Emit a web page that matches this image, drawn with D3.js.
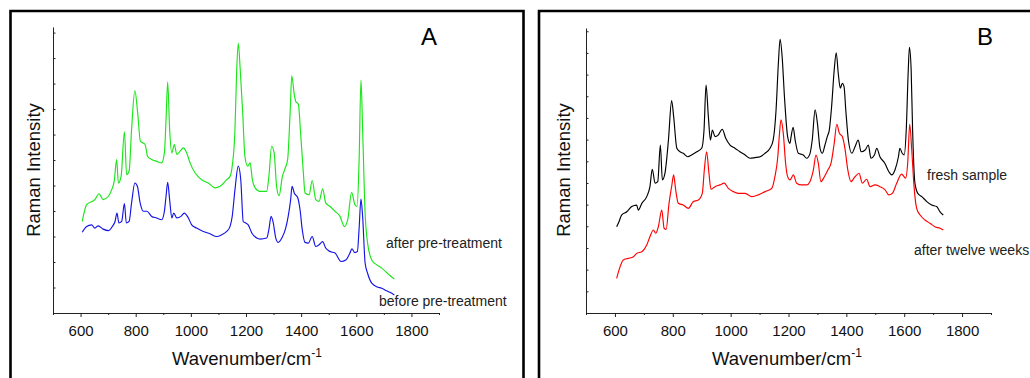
<!DOCTYPE html>
<html>
<head>
<meta charset="utf-8">
<script src="https://cdn.jsdelivr.net/npm/d3@7"></script>
<style>
  body { margin: 0; background: #fff; }
  svg { display: block; font-family: "Liberation Sans", Arial, sans-serif; }
</style>
</head>
<body>
<svg id="chart" width="1030" height="378"></svg>
<script>
// panel A : after / before pre-treatment
var wnAfter = [606,622,652,667,682,701,713,722,731,737,747,759,767,776,785,797,807,817,834,843,858,876,894,904,910,916,923,931,940,949,961,973,985,997,1015,1039,1063,1088,1106,1130,1142,1150,1160,1166,1172,1179,1188,1196,1206,1215,1223,1233,1251,1275,1283,1293,1302,1311,1320,1332,1341,1351,1360,1366,1375,1380,1390,1398,1408,1414,1429,1440,1453,1465,1478,1489,1505,1523,1541,1557,1569,1583,1595,1603,1610,1617,1623,1632,1641,1656,1674,1692,1710,1722,1738];
var intAfter = [3.59,4.25,4.45,4.68,4.45,4.58,4.84,5.17,6.02,5.10,5.36,7.11,5.43,5.56,7.20,8.73,7.86,6.74,6.61,6.15,6.02,5.95,5.89,6.28,7.59,9.06,7.20,6.28,6.61,6.22,6.35,6.48,6.28,5.89,5.50,5.23,5.10,4.91,4.97,5.23,5.36,5.76,7.20,9.43,10.58,9.56,7.86,6.15,5.76,5.89,5.23,4.91,4.77,4.77,5.36,6.54,6.28,4.97,4.60,5.36,5.65,6.02,7.86,9.30,8.58,8.31,8.18,7.07,5.50,4.71,4.64,5.20,4.45,4.38,4.87,4.32,4.18,3.99,3.79,3.39,3.66,4.73,4.25,4.18,5.89,9.14,7.20,3.92,2.74,2.08,1.89,1.76,1.59,1.47,1.33];

var wnBefore = [606,622,640,652,664,682,701,715,725,732,739,749,759,766,776,785,797,806,816,828,840,858,876,894,904,910,916,923,931,938,949,964,976,991,1003,1021,1045,1069,1094,1112,1130,1142,1150,1160,1172,1181,1190,1199,1208,1221,1239,1251,1275,1283,1291,1299,1308,1317,1330,1344,1353,1362,1367,1375,1388,1396,1404,1414,1426,1440,1453,1465,1478,1489,1505,1523,1545,1562,1577,1584,1595,1604,1610,1617,1623,1632,1641,1656,1674,1692,1710,1722,1738];
var intBefore = [3.17,3.39,3.46,3.33,3.42,3.29,3.23,3.39,3.59,3.92,3.53,3.59,4.29,3.53,3.59,4.32,5.10,4.97,4.32,3.99,3.99,3.79,3.73,3.66,3.99,4.58,5.13,4.45,3.73,3.92,3.73,3.79,3.92,3.73,3.46,3.33,3.20,3.11,3.00,3.07,3.20,3.39,3.79,4.84,5.76,5.23,3.59,3.53,3.46,3.14,2.94,2.90,2.94,3.27,3.79,3.53,2.94,2.77,2.94,3.33,3.79,4.45,4.97,4.71,4.51,4.05,3.27,2.77,2.74,3.00,2.61,2.68,2.80,2.55,2.41,2.35,2.02,2.08,2.35,2.52,2.37,2.41,3.27,4.47,3.79,1.96,1.56,1.17,1.03,0.97,0.87,0.81,0.71];

// panel B : fresh sample / after twelve weeks
var wnFresh = [606,614,623,641,658,675,681,693,710,721,729,739,748,757,764,773,785,796,803,814,825,836,852,865,883,900,908,915,923,930,937,946,957,971,983,998,1015,1032,1050,1067,1084,1102,1119,1136,1147,1157,1165,1171,1178,1186,1197,1205,1209,1216,1223,1234,1251,1263,1274,1282,1292,1300,1309,1317,1326,1334,1341,1349,1358,1365,1372,1379,1386,1392,1398,1407,1419,1430,1441,1451,1465,1476,1485,1497,1505,1516,1533,1547,1557,1568,1580,1585,1593,1600,1607,1614,1618,1624,1629,1637,1647,1661,1678,1695,1712,1724,1735];
var intFresh = [3.98,4.21,4.52,4.67,4.91,4.98,4.75,5.06,5.37,5.83,6.63,5.99,6.06,7.75,6.14,6.45,7.98,9.80,9.06,7.60,7.44,7.37,7.21,7.29,7.44,7.60,8.44,10.52,9.06,7.98,8.44,8.14,8.21,8.48,8.06,7.75,7.60,7.44,7.29,7.14,7.17,7.21,7.37,7.60,7.98,9.37,11.52,12.63,11.83,9.98,8.14,7.83,8.14,8.57,7.98,7.37,7.29,7.14,7.34,7.98,9.37,8.75,7.60,7.37,7.75,8.14,8.44,9.52,11.21,12.01,11.06,10.37,10.60,10.44,9.37,7.98,7.37,7.67,7.98,7.44,7.52,7.75,7.14,7.29,7.60,7.21,6.91,6.52,6.37,6.60,7.21,7.60,7.37,7.29,8.44,11.21,12.26,11.21,8.44,5.99,5.52,5.37,5.14,4.98,4.91,4.67,4.52];

var wnWeeks = [606,614,629,646,664,675,693,710,721,733,741,750,762,770,777,787,796,803,810,819,836,854,871,888,902,909,917,925,932,946,963,978,992,1009,1026,1050,1073,1096,1119,1142,1153,1163,1168,1174,1182,1190,1197,1205,1217,1228,1245,1263,1274,1286,1295,1303,1312,1324,1336,1347,1358,1367,1376,1386,1395,1405,1416,1430,1444,1455,1470,1482,1499,1516,1534,1547,1559,1574,1591,1605,1612,1619,1626,1634,1643,1655,1672,1689,1706,1724,1735];
var intWeeks = [1.60,1.98,2.45,2.52,2.60,2.75,2.83,3.14,3.52,3.83,3.68,3.98,4.75,3.91,3.86,5.06,5.83,6.37,5.68,5.06,4.98,4.83,5.14,5.21,5.52,6.60,7.44,6.45,5.71,5.83,5.91,5.99,5.75,5.60,5.52,5.52,5.37,5.45,5.60,5.75,6.29,7.21,8.14,8.91,8.29,6.91,6.29,6.14,6.37,5.99,5.91,5.91,6.06,6.60,7.29,6.91,6.06,6.29,6.60,6.91,7.83,8.71,8.29,8.14,7.60,6.60,6.06,6.29,6.45,5.99,6.17,5.83,5.91,5.83,5.68,5.45,5.52,5.99,6.41,6.22,6.91,8.71,7.52,5.83,4.83,4.52,4.29,4.14,3.98,3.91,3.83];

var xMajor = [600,800,1000,1200,1400,1600,1800];
var xMinor = [500,700,900,1100,1300,1500,1700,1900];

var svg = d3.select("#chart");

// panel frames
svg.append("path")
    .attr("d", "M10.5,382 V11 H523.5 V382")
    .attr("fill", "none").attr("stroke", "#000").attr("stroke-width", 2.6);
svg.append("path")
    .attr("d", "M539,382 V11 H1034")
    .attr("fill", "none").attr("stroke", "#000").attr("stroke-width", 2.6);

function drawPanel(p){
    var x = d3.scaleLinear().domain([500, 1900]).range([p.left, p.right]);
    var y = d3.scaleLinear().domain([0, p.yMax]).range([313, p.top]);
    var g = svg.append("g");

    // x axis : major + minor ticks
    g.append("g")
        .attr("transform", "translate(0,313)")
        .call(d3.axisBottom(x).tickValues(xMajor).tickSize(4).tickSizeOuter(0).tickPadding(8).tickFormat(d3.format("d")))
        .call(a => a.selectAll("text").attr("font-size", 15).attr("fill", "#111").attr("font-family", "Liberation Sans, Arial, sans-serif"));
    g.append("g")
        .attr("transform", "translate(0,313)")
        .call(d3.axisBottom(x).tickValues(xMinor).tickSize(2).tickSizeOuter(0).tickFormat(""))
        .call(a => a.select(".domain").remove());

    // y axis, unlabelled ticks pointing inward
    g.append("g")
        .attr("transform", "translate(" + p.left + ",0)")
        .call(d3.axisLeft(y).tickValues(d3.range(1, Math.floor(p.yMax) + 1)).tickSize(-2.5).tickSizeOuter(0).tickFormat(""));

    g.selectAll(".domain, .tick line").attr("stroke", "#222").attr("stroke-width", 1);

    var line = d3.line().curve(d3.curveMonotoneX).x(d => x(d[0])).y(d => y(d[1]));
    p.series.forEach(s => {
        g.append("path")
            .datum(s.wn.map((w, i) => [w, s.val[i]]))
            .attr("fill", "none")
            .attr("stroke", s.color)
            .attr("stroke-width", 1.15)
            .attr("stroke-linejoin", "round")
            .attr("d", line);
        g.append("text")
            .attr("x", s.lx).attr("y", s.ly)
            .attr("font-size", 14).attr("fill", "#222")
            .text(s.label);
    });

    // axis titles
    g.append("text")
        .attr("transform", "translate(" + p.ylabX + ",170) rotate(-90)")
        .attr("text-anchor", "middle")
        .attr("font-size", 18.5).attr("fill", "#111")
        .text("Raman Intensity");
    var xt = g.append("text")
        .attr("x", p.xlabX).attr("y", 365)
        .attr("font-size", 18.5).attr("fill", "#111");
    xt.append("tspan").text("Wavenumber/cm");
    xt.append("tspan").attr("font-size", 12).attr("dy", -8).text("-1");

    // panel letter
    g.append("text")
        .attr("x", p.letterX).attr("y", 45)
        .attr("text-anchor", "middle")
        .attr("font-size", 24).attr("fill", "#000")
        .text(p.letter);
}

drawPanel({
    left: 53, right: 439, top: 27, yMax: 11.22,
    ylabX: 40, xlabX: 172, letter: "A", letterX: 429,
    series: [
        {wn: wnAfter, val: intAfter, color: "#19e619", label: "after pre-treatment", lx: 386, ly: 248},
        {wn: wnBefore, val: intBefore, color: "#1414e6", label: "before pre-treatment", lx: 379, ly: 306}
    ]
});
drawPanel({
    left: 586, right: 991, top: 28, yMax: 13.15,
    ylabX: 570, xlabX: 712, letter: "B", letterX: 985,
    series: [
        {wn: wnFresh, val: intFresh, color: "#000", label: "fresh sample", lx: 927, ly: 180},
        {wn: wnWeeks, val: intWeeks, color: "#f00", label: "after twelve weeks", lx: 914, ly: 255}
    ]
});
</script>
</body>
</html>
